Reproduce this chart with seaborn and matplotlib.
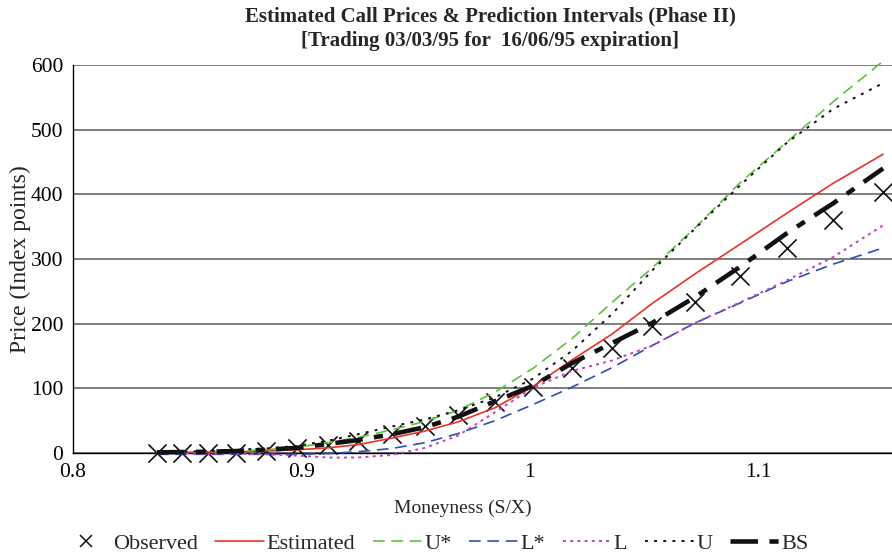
import matplotlib
matplotlib.use("Agg")
import matplotlib.pyplot as plt
from matplotlib.lines import Line2D
import pandas as pd
import seaborn as sns

# Moneyness (S/X) of each traded strike
moneyness = [0.8368, 0.8477, 0.8591, 0.8714, 0.8845, 0.8981, 0.9117, 0.9248, 0.9397, 0.9542,
             0.9686, 0.9848, 1.0015, 1.0186, 1.0361, 1.0536, 1.0724, 1.0922, 1.1127, 1.1329, 1.1548]

# Prices in index points
observed = [0, 0, 0, 0, 3, 7, 12, 19, 29, 41, 58, 79, 102, 131, 162, 196, 234, 273, 317, 361, 404]
estimated = [1, 1, 1.5, 2, 3, 5, 8, 13, 23, 34, 48, 70, 103, 144, 184, 231, 277, 323, 371, 417, 462]
u_star = [1, 1.5, 2, 3, 5, 9, 16, 24, 36, 49, 66, 94, 131, 177, 233, 286, 348, 418, 481, 543, 606]
l_star = [-2, -2, -2, -2, -2, -2, -1, 2, 7, 16, 30, 50, 75, 102, 132, 166, 201, 232, 265, 292, 317]
l_band = [0, 0, -1, -1, -2, -4, -7, -7, -3, 8, 27, 63, 101, 127, 143, 166, 201, 233, 267, 303, 352]
u_band = [1, 2, 3, 5, 7, 11, 19, 29, 41, 52, 66, 86, 115, 158, 215, 282, 347, 414, 480, 532, 572]
bs = [1, 1.5, 2, 3, 5, 8, 14, 20, 29, 40, 56, 80, 104, 139, 170, 201, 241, 288, 340, 386, 440]

x_ticks = [0.8, 0.9, 1.0, 1.1]
x_tick_labels = ["0.8", "0.9", "1", "1.1"]
y_ticks = [0, 100, 200, 300, 400, 500, 600]

title = ("Estimated Call Prices & Prediction Intervals (Phase II)\n"
         "[Trading 03/03/95 for  16/06/95 expiration]")

df = pd.DataFrame({
    "m": moneyness, "Observed": observed, "Estimated": estimated,
    "U*": u_star, "L*": l_star, "L": l_band, "U": u_band, "BS": bs,
})

sns.set_theme(style="white")
plt.rcParams["font.family"] = ["Liberation Serif", "DejaVu Serif"]

W, H = 892, 557
fig = plt.figure(figsize=(W / 100, H / 100), dpi=100)
ax = fig.add_axes([73 / W, (H - 453) / H, 1 - 73 / W, (453 - 65) / H])

styles = {
    "Estimated": dict(color="#e8322a", lw=1.2, linestyle="-"),
    "U*": dict(color="#5cc23c", lw=1.2, linestyle=(0, (7, 4))),
    "L*": dict(color="#2d4fb0", lw=1.2, linestyle=(0, (7, 4))),
    "L": dict(color="#c040c0", lw=1.4, linestyle=(0, (1.5, 2.2))),
    "U": dict(color="#111111", lw=1.4, linestyle=(0, (1.5, 3.2))),
    "BS": dict(color="#111111", lw=3.3, linestyle=(0, (6, 2.5, 2, 2.5))),
}

sns.scatterplot(data=df, x="m", y="Observed", ax=ax, marker="x", s=170,
                color="#111111", linewidth=1.2, zorder=3, clip_on=False, legend=False)
for name, st in styles.items():
    sns.lineplot(data=df, x="m", y=name, ax=ax, zorder=4, clip_on=False,
                 legend=False, **st)

ax.set_xlim(0.8, 1.1587)
ax.set_ylim(0, 600)
ax.set_xticks(x_ticks)
ax.set_xticklabels(x_tick_labels)
ax.set_yticks(y_ticks)
ax.yaxis.grid(True, color="#5a5a5a", lw=1.1)
ax.xaxis.grid(False)
ax.set_axisbelow(True)
for s in ("top", "right"):
    ax.spines[s].set_visible(False)
for s in ("left", "bottom"):
    ax.spines[s].set_color("black")
    ax.spines[s].set_linewidth(1.0)
ax.tick_params(axis="both", direction="inout", length=8, width=1, colors="black",
               labelsize=15.5, pad=3)

ax.set_xlabel("Moneyness (S/X)", fontsize=14)
ax.xaxis.set_label_coords((463 - 73) / (W - 73), -(500 - 453) / (453 - 65))
ax.set_ylabel("Price (Index points)", fontsize=17, labelpad=0)

fig.text(490 / W, 1 - 29 / H, title, ha="center", va="center", fontsize=15,
         fontweight="bold", linespacing=1.28)

handles = [Line2D([], [], marker="x", color="#111111", linestyle="none",
                  markersize=9, markeredgewidth=1.1)]
for name, st in styles.items():
    handles.append(Line2D([], [], **st))
labels = ["Observed"] + list(styles.keys())
fig.legend(handles, labels, loc="center", bbox_to_anchor=(435 / W, 1 - 544 / H),
           ncol=7, frameon=False, fontsize=16, handlelength=2.2,
           handletextpad=0.1, columnspacing=0.8, borderaxespad=0)

fig.savefig("out.png", dpi=100)
